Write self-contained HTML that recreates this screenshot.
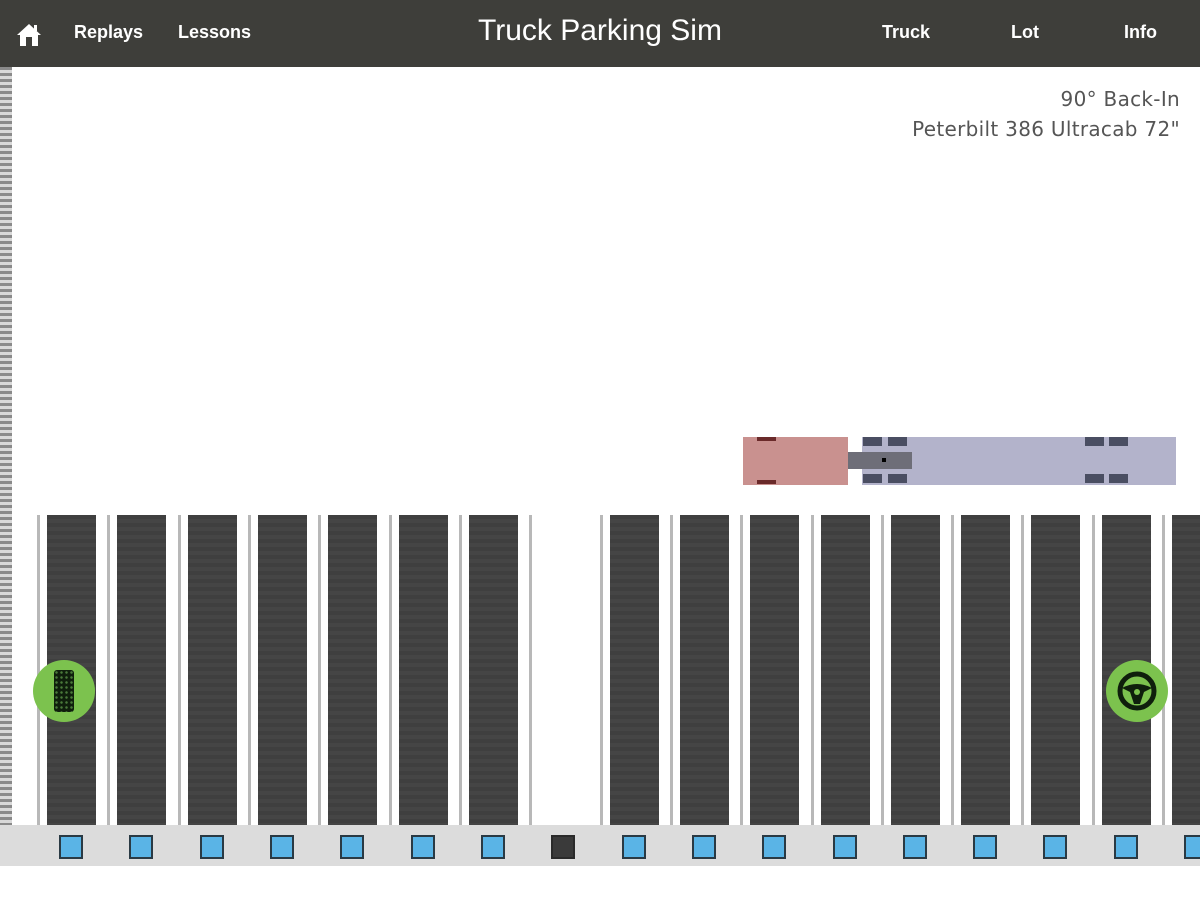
<!DOCTYPE html>
<html><head><meta charset="utf-8"><style>
body{margin:0;width:1200px;height:900px;position:relative;overflow:hidden;background:#fff;font-family:"Liberation Sans",sans-serif}
div{position:absolute;box-sizing:border-box}
.hdr{left:0;top:0;width:1200px;height:67px;background:#3e3e3a}
.nav{color:#fff;font-weight:bold;font-size:18px;top:22px}
.strip{left:0;top:67px;width:12px;height:758px;background:repeating-linear-gradient(#8a8a8a 0 3px,#d8d8d8 3px 6px)}
.st{top:515px;width:49px;height:310px;background:repeating-linear-gradient(#3f3f3f 0 4px,#454545 4px 8px)}
.ln{top:515px;width:3px;height:310px;background:#b8b8b8}
.sq{top:835px;width:24px;height:24px;background:#5ab4e6;border:2px solid #2a3a44}
.info{right:20px;color:#555;font-family:"DejaVu Sans",sans-serif;font-size:20px;text-align:right;line-height:30px;top:84px;letter-spacing:0.3px}
.wh{background:#4a4e62;width:19px;height:9px}
</style></head><body>
<div class="hdr"></div>
<svg style="position:absolute;left:16px;top:22px" width="26" height="26" viewBox="0 0 26 26"><path d="M13 2 L25 13 H22 V24 H4 V13 H1 Z" fill="#fff"/><rect x="10" y="15" width="6" height="9" fill="#3e3e3a"/><rect x="18" y="3" width="3" height="6" fill="#fff"/></svg>
<div class="nav" style="left:74px">Replays</div>
<div class="nav" style="left:178px">Lessons</div>
<div style="left:0;width:1200px;top:14px;text-align:center;color:#fff;font-size:30px">Truck Parking Sim</div>
<div class="nav" style="left:882px">Truck</div>
<div class="nav" style="left:1011px">Lot</div>
<div class="nav" style="left:1124px">Info</div>
<div class="strip"></div>
<div class="info">90° Back-In<br>Peterbilt 386 Ultracab 72"</div>

<div style="left:743px;top:437px;width:105px;height:48px;background:#c9918f"></div>
<div style="left:757px;top:437px;width:19px;height:4px;background:#6a2a2a"></div>
<div style="left:757px;top:480px;width:19px;height:4px;background:#6a2a2a"></div>
<div style="left:862px;top:437px;width:314px;height:48px;background:#b3b3cb"></div>
<div style="left:848px;top:452px;width:64px;height:17px;background:#6e6e78"></div>
<div style="left:882px;top:458px;width:4px;height:4px;background:#000"></div>
<div class="wh" style="left:863px;top:437px"></div><div class="wh" style="left:888px;top:437px"></div>
<div class="wh" style="left:863px;top:474px"></div><div class="wh" style="left:888px;top:474px"></div>
<div class="wh" style="left:1085px;top:437px"></div><div class="wh" style="left:1109px;top:437px"></div>
<div class="wh" style="left:1085px;top:474px"></div><div class="wh" style="left:1109px;top:474px"></div>

<div style="left:0;top:825px;width:1200px;height:41px;background:#dcdcdc"></div>

<div class="ln" style="left:37px"></div><div class="st" style="left:47px"></div><div class="sq" style="left:59px"></div>
<div class="ln" style="left:107px"></div><div class="st" style="left:117px"></div><div class="sq" style="left:129px"></div>
<div class="ln" style="left:178px"></div><div class="st" style="left:188px"></div><div class="sq" style="left:200px"></div>
<div class="ln" style="left:248px"></div><div class="st" style="left:258px"></div><div class="sq" style="left:270px"></div>
<div class="ln" style="left:318px"></div><div class="st" style="left:328px"></div><div class="sq" style="left:340px"></div>
<div class="ln" style="left:389px"></div><div class="st" style="left:399px"></div><div class="sq" style="left:411px"></div>
<div class="ln" style="left:459px"></div><div class="st" style="left:469px"></div><div class="sq" style="left:481px"></div>
<div class="ln" style="left:529px"></div><div class="sq" style="left:551px;background:#3a3a3a;border-color:#2a2a2a"></div>
<div class="ln" style="left:600px"></div><div class="st" style="left:610px"></div><div class="sq" style="left:622px"></div>
<div class="ln" style="left:670px"></div><div class="st" style="left:680px"></div><div class="sq" style="left:692px"></div>
<div class="ln" style="left:740px"></div><div class="st" style="left:750px"></div><div class="sq" style="left:762px"></div>
<div class="ln" style="left:811px"></div><div class="st" style="left:821px"></div><div class="sq" style="left:833px"></div>
<div class="ln" style="left:881px"></div><div class="st" style="left:891px"></div><div class="sq" style="left:903px"></div>
<div class="ln" style="left:951px"></div><div class="st" style="left:961px"></div><div class="sq" style="left:973px"></div>
<div class="ln" style="left:1021px"></div><div class="st" style="left:1031px"></div><div class="sq" style="left:1043px"></div>
<div class="ln" style="left:1092px"></div><div class="st" style="left:1102px"></div><div class="sq" style="left:1114px"></div>
<div class="ln" style="left:1162px"></div><div class="st" style="left:1172px"></div><div class="sq" style="left:1184px"></div>

<div style="left:33px;top:660px;width:62px;height:62px;border-radius:50%;background:#7cc24e"></div>
<div style="left:54px;top:670px;width:20px;height:42px;background:#0f1f0c;border-radius:3px;background-image:radial-gradient(#4a7a3a 1px,transparent 1.5px);background-size:5px 5px"></div>
<div style="left:1106px;top:660px;width:62px;height:62px;border-radius:50%;background:#7cc24e"></div>
<svg style="position:absolute;left:1114px;top:668px" width="46" height="46" viewBox="0 0 46 46"><circle cx="23" cy="23" r="17" fill="none" stroke="#0f1f0c" stroke-width="5"/><path d="M8 20 Q23 12 38 20 L30 24 L26 36 H20 L16 24 Z" fill="#0f1f0c"/><circle cx="23" cy="24" r="3" fill="#7cc24e"/></svg>
</body></html>
